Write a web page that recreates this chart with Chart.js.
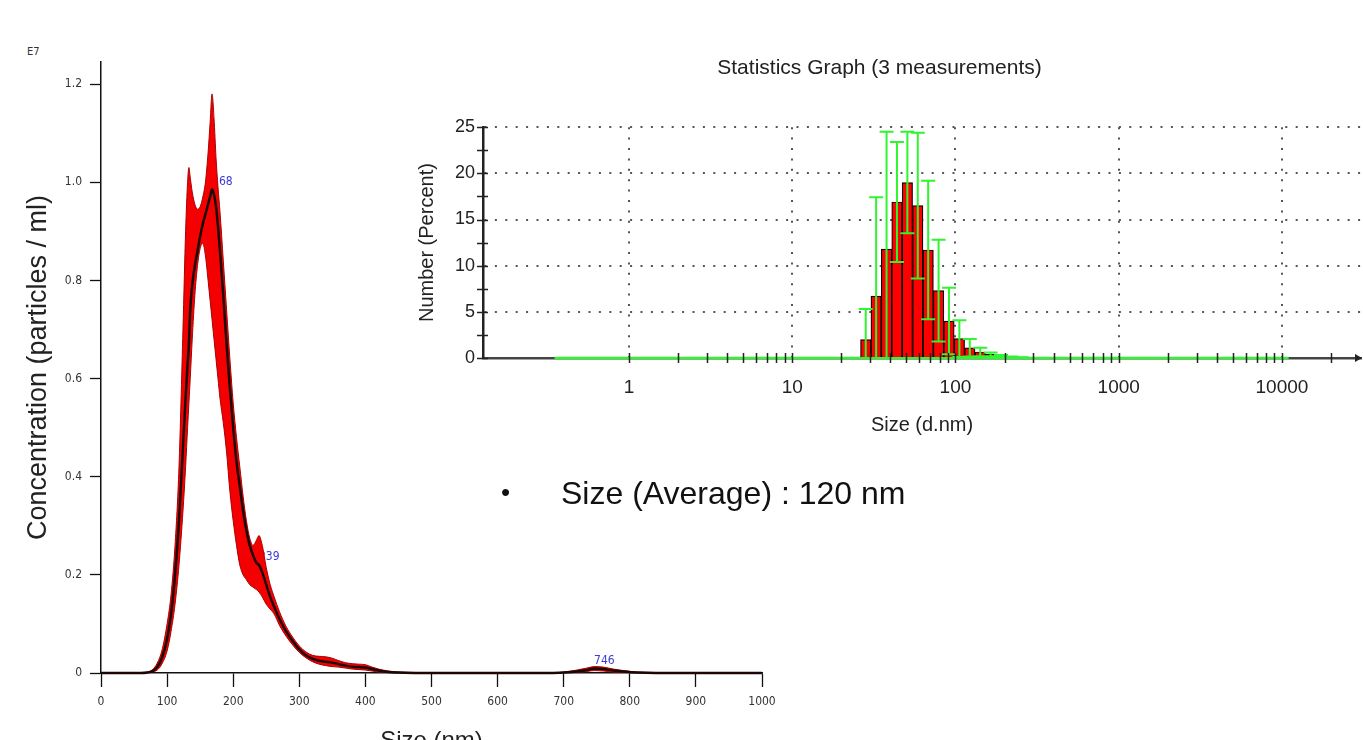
<!DOCTYPE html>
<html>
<head>
<meta charset="utf-8">
<title>NTA and DLS size distribution</title>
<script src="https://cdn.jsdelivr.net/npm/chart.js@4.4.1/dist/chart.umd.min.js"></script>
<style>
  html, body { margin: 0; padding: 0; background: #fff; overflow: hidden; width: 1363px; height: 740px; }
  #ntaChart { position: absolute; left: 0; top: 0; }
  #dlsChart { position: absolute; left: 398px; top: 40px; }
  .note { position: absolute; font-family: 'Liberation Sans', Arial, sans-serif; color: #111; white-space: nowrap; }
</style>
</head>
<body>
<div class="note" style="left:27px; top:45px; font-size:11px; font-family:'DejaVu Sans Condensed',sans-serif; color:#333;">E7</div>
<canvas id="ntaChart" width="800" height="760"></canvas>
<canvas id="dlsChart" width="965" height="400"></canvas>
<div class="note" style="left:501px; top:477px; font-size:26px; line-height:30px;">•</div>
<div class="note" style="left:561px; top:475px; font-size:32px; line-height:36px;">Size (Average) : 120 nm</div>

<script>
// ---- NTA (left): concentration in E7 particles / ml vs size (nm)
const ntaSizes = [0, 40, 60, 70, 78, 85, 92, 100, 106, 112, 118, 124, 128, 131, 133, 135, 138, 142, 146, 150,
  154, 158, 162, 165, 168, 171, 174, 177, 180, 185, 190, 195, 200, 205, 210, 215, 220, 225, 230, 235,
  239, 244, 250, 256, 262, 270, 280, 290, 300, 310, 320, 330, 340, 350, 360, 370, 380, 390, 400, 410,
  420, 435, 450, 480, 520, 600, 680, 700, 720, 735, 746, 760, 775, 790, 810, 840, 880, 950, 1000];
const ntaMean = [0, 0, 0, 0.001, 0.004, 0.012, 0.03, 0.07, 0.12, 0.2, 0.31, 0.46, 0.56, 0.63, 0.67, 0.74, 0.79, 0.83, 0.86, 0.89,
  0.915, 0.935, 0.955, 0.97, 0.985, 0.975, 0.95, 0.91, 0.86, 0.77, 0.67, 0.58, 0.5, 0.43, 0.38, 0.33, 0.29, 0.26, 0.24, 0.225,
  0.22, 0.205, 0.18, 0.155, 0.135, 0.11, 0.085, 0.065, 0.048, 0.036, 0.029, 0.025, 0.023, 0.021, 0.018, 0.015, 0.013, 0.012, 0.011, 0.008,
  0.005, 0.002, 0.001, 0, 0, 0, 0, 0.001, 0.003, 0.006, 0.009, 0.008, 0.005, 0.003, 0.001, 0, 0, 0, 0];
const ntaUpper = [0, 0, 0, 0.002, 0.007, 0.02, 0.045, 0.1, 0.16, 0.26, 0.42, 0.7, 0.9, 1.0, 1.03, 1.01, 0.98, 0.955, 0.945, 0.95,
  0.97, 1.0, 1.06, 1.12, 1.18, 1.13, 1.05, 0.99, 0.94, 0.84, 0.74, 0.64, 0.55, 0.48, 0.42, 0.36, 0.31, 0.275, 0.26, 0.27,
  0.28, 0.26, 0.215, 0.18, 0.155, 0.125, 0.095, 0.073, 0.055, 0.043, 0.036, 0.034, 0.033, 0.03, 0.025, 0.021, 0.019, 0.018, 0.017, 0.012,
  0.008, 0.004, 0.002, 0.001, 0, 0, 0, 0.002, 0.006, 0.01, 0.013, 0.012, 0.008, 0.005, 0.002, 0.001, 0, 0, 0];
const ntaLower = [0, 0, 0, 0, 0.002, 0.006, 0.018, 0.045, 0.085, 0.14, 0.22, 0.33, 0.42, 0.5, 0.55, 0.6, 0.68, 0.77, 0.83, 0.865,
  0.875, 0.85, 0.8, 0.76, 0.72, 0.68, 0.64, 0.6, 0.56, 0.51, 0.45, 0.37, 0.31, 0.26, 0.22, 0.2, 0.19, 0.18, 0.175, 0.17,
  0.165, 0.155, 0.14, 0.13, 0.12, 0.097, 0.075, 0.057, 0.042, 0.031, 0.023, 0.018, 0.015, 0.013, 0.012, 0.01, 0.008, 0.007, 0.006, 0.004,
  0.002, 0.001, 0, 0, 0, 0, 0, 0, 0.001, 0.003, 0.005, 0.004, 0.002, 0.001, 0, 0, 0, 0, 0];
const ntaPeaks = [168, 239, 746];
const ntaXTicks = [0, 100, 200, 300, 400, 500, 600, 700, 800, 900, 1000];
const ntaYTicks = [0, 0.2, 0.4, 0.6, 0.8, 1.0, 1.2];

// ---- DLS (right): number distribution, log size bins
const dlsSizes = [28.21, 32.67, 37.84, 43.82, 50.75, 58.77, 68.06, 78.82, 91.28, 105.7, 122.4, 141.8, 164.2, 190.1, 220.2, 255.0];
const dlsNumber = [2.0, 6.7, 11.8, 16.9, 19.0, 16.5, 11.7, 7.3, 4.0, 2.1, 1.1, 0.65, 0.4, 0.22, 0.1, 0.05];
const dlsError = [3.3, 10.7, 12.7, 6.5, 5.5, 7.9, 7.5, 5.5, 3.6, 2.0, 0.95, 0.45, 0.2, 0.1, 0.05, 0.03];
const dlsRange = [0.35, 11000];
const dlsXTicks = [1, 10, 100, 1000, 10000];
const dlsXMinor = [2, 3, 4, 5, 6, 7, 8, 9, 20, 30, 40, 50, 60, 70, 80, 90, 200, 300, 400, 500, 600, 700, 800, 900,
  2000, 3000, 4000, 5000, 6000, 7000, 8000, 9000, 20000];
const dlsYTicks = [0, 5, 10, 15, 20, 25];
const dlsYMinor = [2.5, 7.5, 12.5, 17.5, 22.5];

const SANS = "'Liberation Sans', Arial, Helvetica, sans-serif";
const NARROW = "'DejaVu Sans Condensed', 'Liberation Sans Narrow', sans-serif";
const GREEN = '#2ef52e';

const pts = (xs, ys) => xs.map((x, i) => ({ x, y: ys[i] }));

// blue size labels at the NTA peaks, drawn first so the band covers them
const peakLabels = {
  id: 'peakLabels',
  beforeDraw(chart) {
    const { ctx, scales: { x, y } } = chart;
    ctx.save();
    ctx.fillStyle = '#3b3bd6';
    ctx.font = '12px ' + NARROW;
    ctx.textAlign = 'left';
    ctx.textBaseline = 'bottom';
    ntaPeaks.forEach(p => {
      const v = ntaMean[ntaSizes.indexOf(p)];
      ctx.fillText(String(p), x.getPixelForValue(p), y.getPixelForValue(v) - 2);
    });
    ctx.restore();
  }
};

const errorBars = {
  id: 'errorBars',
  afterDatasetsDraw(chart) {
    const { ctx, chartArea: a, scales: { x, y } } = chart;
    ctx.save();
    ctx.beginPath();
    ctx.rect(a.left, a.top - 2, a.right - a.left, a.bottom - a.top + 2);
    ctx.clip();
    ctx.strokeStyle = GREEN;
    ctx.lineWidth = 2;
    ctx.beginPath();
    dlsSizes.forEach((s, i) => {
      const px = x.getPixelForValue(s);
      const hi = y.getPixelForValue(dlsNumber[i] + dlsError[i]);
      const loV = dlsNumber[i] - dlsError[i];
      const lo = y.getPixelForValue(Math.max(loV, 0));
      ctx.moveTo(px, hi); ctx.lineTo(px, lo);
      ctx.moveTo(px - 7, hi); ctx.lineTo(px + 7, hi);
      if (loV > 0) { ctx.moveTo(px - 7, lo); ctx.lineTo(px + 7, lo); }
    });
    ctx.stroke();
    ctx.restore();
  }
};

// tick marks that cross the axes, like the instrument software draws them
const crossTicks = {
  id: 'crossTicks',
  afterDraw(chart) {
    const { ctx, chartArea: a, scales: { x, y } } = chart;
    ctx.save();
    ctx.strokeStyle = '#222';
    ctx.lineWidth = 1.5;
    ctx.beginPath();
    dlsXTicks.concat(dlsXMinor).forEach(v => {
      const px = Math.round(x.getPixelForValue(v)) + 0.5;
      ctx.moveTo(px, a.bottom - 5); ctx.lineTo(px, a.bottom + 5);
    });
    dlsYTicks.concat(dlsYMinor).forEach(v => {
      const py = Math.round(y.getPixelForValue(v)) + 0.5;
      ctx.moveTo(a.left - 6, py); ctx.lineTo(a.left + 5, py);
    });
    ctx.stroke();
    ctx.fillStyle = '#222';
    ctx.beginPath();
    ctx.moveTo(a.right + 1, a.bottom);
    ctx.lineTo(a.right - 6, a.bottom - 4);
    ctx.lineTo(a.right - 6, a.bottom + 4);
    ctx.closePath();
    ctx.fill();
    ctx.restore();
  }
};

new Chart(document.getElementById('ntaChart'), {
  type: 'line',
  data: {
    datasets: [
      { label: 'Mean', data: pts(ntaSizes, ntaMean), borderColor: '#1c0606', borderWidth: 2.5,
        pointRadius: 0, cubicInterpolationMode: 'monotone', fill: false, clip: false },
      { label: 'Upper', data: pts(ntaSizes, ntaUpper), borderColor: '#a80000', borderWidth: 1,
        backgroundColor: '#f40000', pointRadius: 0, cubicInterpolationMode: 'monotone', fill: '+1' },
      { label: 'Lower', data: pts(ntaSizes, ntaLower), borderColor: '#a80000', borderWidth: 1,
        pointRadius: 0, cubicInterpolationMode: 'monotone', fill: false }
    ]
  },
  options: {
    responsive: false,
    animation: false,
    layout: { padding: { top: 62, right: 38, left: 0, bottom: 0 } },
    plugins: {
      legend: { display: false },
      tooltip: { enabled: false },
      filler: { drawTime: 'beforeDatasetsDraw' }
    },
    scales: {
      x: {
        type: 'linear', min: 0, max: 1000,
        afterBuildTicks: s => { s.ticks = ntaXTicks.map(v => ({ value: v })); },
        afterFit: s => { s.height = 87; },
        grid: { drawOnChartArea: false, tickLength: 14, tickColor: '#111', tickWidth: 1.3 },
        border: { color: '#111', width: 1.5 },
        ticks: { padding: 8, color: '#333', autoSkip: false, maxRotation: 0, font: { family: NARROW, size: 12 },
          callback: v => String(v) },
        title: { display: true, text: 'Size (nm)', color: '#222', font: { family: SANS, size: 24 }, padding: { top: 0, bottom: 4 } }
      },
      y: {
        min: 0, max: 1.245,
        afterBuildTicks: s => { s.ticks = ntaYTicks.map(v => ({ value: v })); },
        afterFit: s => { s.width = 101; },
        grid: { drawOnChartArea: false, tickLength: 11, tickColor: '#111', tickWidth: 1.3 },
        border: { color: '#111', width: 1.5 },
        ticks: { padding: 8, color: '#333', font: { family: NARROW, size: 12 },
          callback: v => (v === 0 ? '0' : v.toFixed(1)) },
        title: { display: true, text: 'Concentration (particles / ml)', color: '#222', font: { family: SANS, size: 27 }, padding: { top: 22, bottom: 0 } }
      }
    }
  },
  plugins: [peakLabels]
});

new Chart(document.getElementById('dlsChart'), {
  type: 'bar',
  data: {
    datasets: [
      { type: 'bar', label: 'Number', data: pts(dlsSizes, dlsNumber), backgroundColor: '#ff0000',
        borderColor: '#000', borderWidth: 1.2, barThickness: 'flex', categoryPercentage: 1, barPercentage: 1 },
      { type: 'line', label: 'Range', data: [{ x: dlsRange[0], y: 0 }, { x: dlsRange[1], y: 0 }],
        borderColor: GREEN, borderWidth: 2.5, pointRadius: 0, clip: false }
    ]
  },
  options: {
    responsive: false,
    animation: false,
    layout: { padding: { left: 0, right: 2, top: 0, bottom: 0 } },
    plugins: {
      legend: { display: false },
      tooltip: { enabled: false },
      title: { display: true, text: 'Statistics Graph (3 measurements)', color: '#222',
        font: { family: SANS, size: 21, weight: 'normal' }, padding: { top: 16, bottom: 46 } }
    },
    scales: {
      x: {
        type: 'logarithmic', min: 0.1276, max: 30500, offset: false,
        afterBuildTicks: s => { s.ticks = dlsXTicks.map(v => ({ value: v })); },
        afterFit: s => { s.height = 82; },
        grid: { offset: false, drawTicks: false, color: '#555', lineWidth: 2 },
        border: { color: '#444', width: 2.5, dash: [2, 8.4] },
        ticks: { padding: 18, color: '#222', autoSkip: false, maxRotation: 0, font: { family: SANS, size: 19 },
          callback: v => String(v) },
        title: { display: true, text: 'Size (d.nm)', color: '#222', font: { family: SANS, size: 20 }, padding: { top: 0, bottom: 3 } }
      },
      y: {
        min: 0, max: 25,
        afterBuildTicks: s => { s.ticks = dlsYTicks.map(v => ({ value: v })); },
        afterFit: s => { s.width = 85; },
        grid: { drawTicks: false, lineWidth: 2, color: c => (c.tick && c.tick.value === 0 ? 'rgba(0,0,0,0)' : '#555') },
        border: { color: '#222', width: 2.5, dash: [2, 8.4] },
        ticks: { padding: 8, color: '#222', font: { family: SANS, size: 18 } },
        title: { display: true, text: 'Number (Percent)', color: '#222', font: { family: SANS, size: 20 }, padding: { top: 17, bottom: 0 } }
      }
    }
  },
  plugins: [errorBars, crossTicks]
});
</script>
</body>
</html>
